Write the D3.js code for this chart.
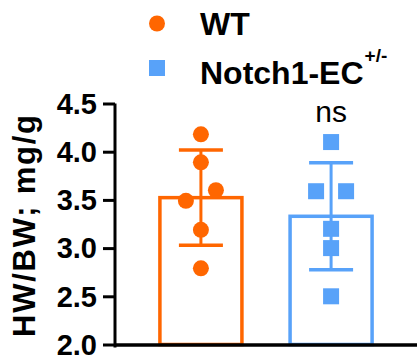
<!DOCTYPE html>
<html>
<head>
<meta charset="utf-8">
<script src="https://cdn.jsdelivr.net/npm/d3@7"></script>
<style>
    body { margin: 0; background: #fff; }
    svg { display: block; font-family: 'Liberation Sans', Arial, sans-serif; }
</style>
</head>
<body>
<div id="chart"></div>
<script>
// Data
const groups = ['WT', 'Notch1-EC'];
const wtValues = [4.18, 3.89, 3.49, 3.6, 3.19, 2.79];
const notchValues = [4.1, 3.59, 3.59, 3.2, 3.0, 2.5];
const yTicks = [2.0, 2.5, 3.0, 3.5, 4.0, 4.5];
const sigLabel = 'ns';

const colors = ['#FF6600', '#58A2F9'];

function draw() {
    const dimensions = {
        width: 417,
        height: 358,
        plotTop: 103.5,
        plotBottom: 344.5,
        plotLeft: 115,
        plotRight: 417
    };

    const series = [wtValues, notchValues];

    // Scales
    const yScale = d3.scaleLinear()
        .domain([2, 4.5])
        .range([dimensions.plotBottom, dimensions.plotTop]);

    const xScale = d3.scaleBand()
        .domain(groups)
        .range([dimensions.plotLeft, dimensions.plotRight])
        .paddingInner(0.37)
        .paddingOuter(0.345);

    const svg = d3.select('#chart')
        .append('svg')
        .attr('width', dimensions.width)
        .attr('height', dimensions.height);

    // Bars (mean)
    const bars = svg.append('g');
    series.forEach((vals, i) => {
        const m = d3.mean(vals);
        bars.append('rect')
            .attr('x', xScale(groups[i]))
            .attr('y', yScale(m))
            .attr('width', xScale.bandwidth())
            .attr('height', yScale(2) - yScale(m))
            .attr('fill', 'none')
            .attr('stroke', colors[i])
            .attr('stroke-width', 3.5);
    });

    // Error bars (mean +/- SD)
    const errs = svg.append('g');
    series.forEach((vals, i) => {
        const m = d3.mean(vals);
        const sd = d3.deviation(vals);
        const cx = xScale(groups[i]) + xScale.bandwidth() / 2;
        const capW = 22;
        errs.append('line')
            .attr('x1', cx).attr('x2', cx)
            .attr('y1', yScale(m + sd)).attr('y2', yScale(m - sd))
            .attr('stroke', colors[i]).attr('stroke-width', 3);
        [m + sd, m - sd].forEach(v => {
            errs.append('line')
                .attr('x1', cx - capW).attr('x2', cx + capW)
                .attr('y1', yScale(v)).attr('y2', yScale(v))
                .attr('stroke', colors[i]).attr('stroke-width', 3.5);
        });
    });

    // Points, spread sideways when they would overlap
    const size = 16;
    const step = 30;
    const pts = svg.append('g');
    series.forEach((vals, i) => {
        const cx = xScale(groups[i]) + xScale.bandwidth() / 2;
        const sorted = vals.map(v => ({ v, py: yScale(v) }))
            .sort((a, b) => a.v - b.v);
        // group points closer than one marker size
        const clusters = [];
        sorted.forEach(p => {
            const last = clusters[clusters.length - 1];
            if (last && Math.abs(last[last.length - 1].py - p.py) < size) last.push(p);
            else clusters.push([p]);
        });
        clusters.forEach(c => {
            c.forEach((p, k) => {
                p.px = cx + (k - (c.length - 1) / 2) * step;
            });
        });
        sorted.forEach(p => {
            if (i === 0) {
                pts.append('circle')
                    .attr('cx', p.px).attr('cy', p.py)
                    .attr('r', size / 2)
                    .attr('fill', colors[i]);
            } else {
                pts.append('rect')
                    .attr('x', p.px - size / 2).attr('y', p.py - size / 2)
                    .attr('width', size).attr('height', size)
                    .attr('fill', colors[i]);
            }
        });
    });

    // Axes
    const yAxis = d3.axisLeft(yScale)
        .tickValues(yTicks)
        .tickFormat(d3.format('.1f'))
        .tickSize(12)
        .tickSizeOuter(0)
        .tickPadding(6);

    const yAxisGroup = svg.append('g')
        .attr('transform', `translate(${dimensions.plotLeft},0)`)
        .call(yAxis);
    yAxisGroup.select('.domain')
        .attr('stroke', '#000').attr('stroke-width', 3)
        .attr('d', `M0,${dimensions.plotTop}V${dimensions.plotBottom + 3}`);
    yAxisGroup.selectAll('.tick line').attr('stroke', '#000').attr('stroke-width', 3);
    yAxisGroup.selectAll('.tick text')
        .attr('fill', '#000')
        .attr('dy', '0.34em')
        .style('font-size', '29px')
        .style('font-weight', 'bold');

    const xAxis = d3.axisBottom(xScale)
        .tickSize(0)
        .tickSizeOuter(0)
        .tickFormat('');
    const xAxisGroup = svg.append('g')
        .attr('transform', `translate(0,${yScale(2)})`)
        .call(xAxis);
    xAxisGroup.select('.domain').attr('stroke', '#000').attr('stroke-width', 3.5);

    svg.append('text')
        .attr('transform', `translate(35,226) rotate(-90)`)
        .attr('text-anchor', 'middle')
        .attr('textLength', 222)
        .attr('lengthAdjust', 'spacing')
        .style('font-size', '31px')
        .style('font-weight', 'bold')
        .text('HW/BW; mg/g');

    // Significance label
    svg.append('text')
        .attr('x', xScale(groups[1]) + xScale.bandwidth() / 2)
        .attr('y', 122)
        .attr('text-anchor', 'middle')
        .style('font-size', '30px')
        .text(sigLabel);

    // Legend
    const legend = svg.append('g');
    legend.append('circle')
        .attr('cx', 157).attr('cy', 23.5).attr('r', 8)
        .attr('fill', colors[0]);
    legend.append('text')
        .attr('x', 200).attr('y', 35)
        .style('font-size', '32px').style('font-weight', 'bold')
        .text(groups[0]);
    legend.append('rect')
        .attr('x', 149).attr('y', 60).attr('width', 16).attr('height', 16)
        .attr('fill', colors[1]);
    const t2 = legend.append('text')
        .attr('x', 200).attr('y', 84)
        .style('font-size', '32px').style('font-weight', 'bold');
    t2.append('tspan').text(groups[1]);
    t2.append('tspan')
        .attr('dx', 1)
        .attr('dy', -22)
        .style('font-size', '19px')
        .text('+/-');
}

draw();
</script>
</body>
</html>
